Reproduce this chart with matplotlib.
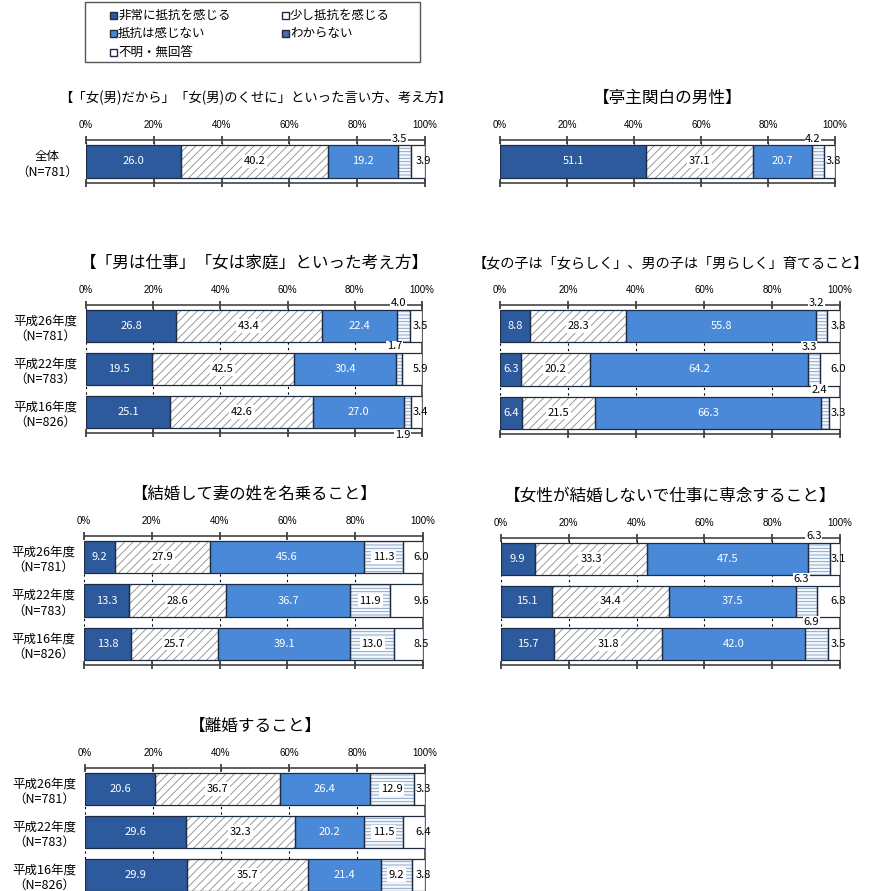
import matplotlib
matplotlib.use('Agg')
import matplotlib.pyplot as plt
from matplotlib.patches import Rectangle
import numpy as np

plt.rcParams['font.family'] = ['Noto Sans CJK JP', 'DejaVu Sans']
plt.rcParams['hatch.linewidth'] = 0.6

categories = ["非常に抵抗を感じる", "少し抵抗を感じる", "抵抗は感じない", "わからない", "不明・無回答"]

rows_all = ["全体\n（N=781）"]
rows_years = ["平成26年度\n（N=781）", "平成22年度\n（N=783）", "平成16年度\n（N=826）"]

titles = [
    "【「女(男)だから」「女(男)のくせに」といった言い方、考え方】",
    "【亭主関白の男性】",
    "【「男は仕事」「女は家庭」といった考え方】",
    "【女の子は「女らしく」、男の子は「男らしく」育てること】",
    "【結婚して妻の姓を名乗ること】",
    "【女性が結婚しないで仕事に専念すること】",
    "【離婚すること】",
]
title_sizes = [9.6, 12, 12, 10.2, 11.8, 12, 12]

values_kotoba = [[26.0, 40.2, 19.2, 3.5, 3.9]]
values_teishu = [[51.1, 37.1, 20.7, 4.2, 3.8]]
values_shigoto = [[26.8, 43.4, 22.4, 4.0, 3.5],
                  [19.5, 42.5, 30.4, 1.7, 5.9],
                  [25.1, 42.6, 27.0, 1.9, 3.4]]
values_rashiku = [[8.8, 28.3, 55.8, 3.2, 3.8],
                  [6.3, 20.2, 64.2, 3.3, 6.0],
                  [6.4, 21.5, 66.3, 2.4, 3.3]]
values_sei = [[9.2, 27.9, 45.6, 11.3, 6.0],
              [13.3, 28.6, 36.7, 11.9, 9.6],
              [13.8, 25.7, 39.1, 13.0, 8.5]]
values_senen = [[9.9, 33.3, 47.5, 6.3, 3.1],
                [15.1, 34.4, 37.5, 6.3, 6.8],
                [15.7, 31.8, 42.0, 6.9, 3.5]]
values_rikon = [[20.6, 36.7, 26.4, 12.9, 3.3],
                [29.6, 32.3, 20.2, 11.5, 6.4],
                [29.9, 35.7, 21.4, 9.2, 3.8]]

# (face, hatch, hatch color, text color)
styles = [
    ("#2c5a9c", None, None, "white"),
    ("white", "////", "#8a8a8a", "black"),
    ("#4a88d8", None, None, "white"),
    ("#f4f7fb", "-----", "#7f9cc4", "black"),
    ("white", None, None, "black"),
]
edge = "#1f2d44"

fig = plt.figure(figsize=(8.75, 8.91), dpi=100)
W, H = 875, 891


def add_axes_px(x0, x1, y0, y1):
    return fig.add_axes([x0 / W, 1 - y1 / H, (x1 - x0) / W, (y1 - y0) / H])


def draw_panel(ax, title, tsize, rows, data, below=()):
    data = np.array(data, dtype=float)
    n = len(rows)
    ypos = np.arange(n)
    bh = 0.74
    pct = data / data.sum(axis=1, keepdims=True) * 100
    left = np.zeros(n)
    for j in range(data.shape[1]):
        face, hatch, hcol, tcol = styles[j]
        ax.barh(ypos, pct[:, j], left=left, height=bh, color=face,
                edgecolor=hcol if hatch else edge, hatch=hatch,
                linewidth=0, zorder=3)
        ax.barh(ypos, pct[:, j], left=left, height=bh, fill=False,
                edgecolor=edge, linewidth=0.9, zorder=4)
        for i in range(n):
            v = data[i, j]
            cx = left[i] + pct[i, j] / 2
            txt = f"{v:.1f}"
            if j == 4:
                ax.text(99.5, ypos[i], txt, ha='center', va='center',
                        fontsize=8, color='black', zorder=6)
            elif j != 3 or v >= 8:
                bbox = None
                if face == "white" or hatch:
                    bbox = dict(boxstyle='square,pad=0.15', fc='white', ec='none')
                ax.text(cx, ypos[i], txt, ha='center', va='center', fontsize=8,
                        color=tcol, bbox=bbox, zorder=6)
            else:
                # small "わからない" shares go just outside the bar
                if i in below:
                    ty, va = ypos[i] + bh / 2 + 0.04, 'top'
                else:
                    ty, va = ypos[i] - bh / 2 - 0.04, 'bottom'
                ax.text(cx - 1.5, ty, txt, ha='center', va=va, fontsize=8,
                        color='black', zorder=6,
                        bbox=dict(boxstyle='square,pad=0.05', fc='white', ec='none'),
                        clip_on=False)
        left += pct[:, j]

    ax.set_xlim(0, 100)
    ax.set_ylim(n - 1 + bh / 2 + 0.12, -bh / 2 - 0.12)
    ax.set_yticks(ypos)
    ax.set_yticklabels(rows, fontsize=9, multialignment='center', linespacing=1.25)
    ax.tick_params(axis='y', length=0, pad=6)
    ax.set_xticks(np.arange(0, 101, 20))
    ax.set_xticklabels([f"{t}%" for t in range(0, 101, 20)], fontsize=7,
                       family=['Liberation Sans Narrow', 'Liberation Sans', 'DejaVu Sans'])
    ax.xaxis.set_ticks_position('both')
    ax.tick_params(axis='x', labeltop=True, labelbottom=False, direction='inout',
                   length=6, width=1.2, color='#333333', pad=4)
    ax.grid(axis='x', linestyle=(0, (2, 3)), color='black', linewidth=0.8, zorder=1)
    for s in ax.spines.values():
        s.set_color('#444444')
        s.set_linewidth(1.2)
    ax.spines['left'].set_visible(False)
    ax.set_title(title, fontsize=tsize, pad=27)


draw_panel(add_axes_px(86, 425, 140, 183), titles[0], title_sizes[0], rows_all, values_kotoba)
draw_panel(add_axes_px(500, 835, 140, 183), titles[1], title_sizes[1], [""], values_teishu)
draw_panel(add_axes_px(86, 422, 305, 433), titles[2], title_sizes[2], rows_years,
           values_shigoto, below=(2,))
draw_panel(add_axes_px(500, 840, 305, 434), titles[3], title_sizes[3], ["", "", ""],
           values_rashiku)
draw_panel(add_axes_px(84, 423, 536, 665), titles[4], title_sizes[4], rows_years, values_sei)
draw_panel(add_axes_px(501, 840, 538, 665), titles[5], title_sizes[5], ["", "", ""],
           values_senen)
draw_panel(add_axes_px(85, 425, 768, 896), titles[6], title_sizes[6], rows_years, values_rikon)

# legend box
lx0, ly0, lx1, ly1 = 85, 2, 420, 62
fig.patches.append(Rectangle((lx0 / W, 1 - ly1 / H), (lx1 - lx0) / W, (ly1 - ly0) / H,
                             transform=fig.transFigure, fill=False,
                             edgecolor='#555555', linewidth=1.0))
leg_pos = [(113, 15), (285, 15), (113, 33), (285, 33), (113, 52)]
leg_faces = ["#2c5a9c", "white", "#4a88d8", "#4a6fa5", "white"]
for (px, py), name, fc in zip(leg_pos, categories, leg_faces):
    fig.patches.append(Rectangle(((px - 3.5) / W, 1 - (py + 3.5) / H), 7 / W, 7 / H,
                                 transform=fig.transFigure, facecolor=fc,
                                 edgecolor='#1f2d44', linewidth=1.0))
    fig.text((px + 5) / W, 1 - py / H, name, fontsize=9, va='center', ha='left')

fig.savefig("out.png", dpi=100)
